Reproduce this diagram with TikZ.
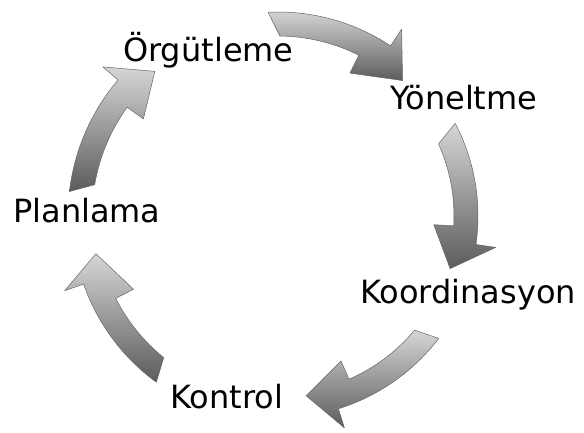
\documentclass[tikz,border=0pt]{standalone}
\usepackage{fontspec}
\setmainfont{DejaVu Sans}
\usepackage{tikz}

% curved cycle arrow round (cc): radius, tail out/in angle, barb out/in angle, tip angle
\newcommand{\cycarrow}[6]{%
  \pgfmathsetmacro\rOut{#1+12}\pgfmathsetmacro\rIn{#1-12}%
  \pgfmathsetmacro\rHi{#1+32}\pgfmathsetmacro\rLo{#1-32}\pgfmathsetmacro\rTip{#1-8}%
  \draw[carrow] ([shift={(#2:\rOut pt)}]cc) arc[start angle=#2, end angle=#4, radius=\rOut pt]
    -- ([shift={(#4:\rHi pt)}]cc) -- ([shift={(#6:\rTip pt)}]cc)
    -- ([shift={(#5:\rLo pt)}]cc) -- ([shift={(#5:\rIn pt)}]cc)
    arc[start angle=#5, end angle=#3, radius=\rIn pt] -- cycle;
}

\begin{document}
\begin{tikzpicture}[
  x=1pt, y=1pt,
  lab/.style={font=\fontsize{32}{36}\selectfont, inner sep=0pt, anchor=base west},
  carrow/.style={draw=black!60, line width=0.5pt, line join=round,
                 top color=black!16, bottom color=black!64}
]
\useasboundingbox (0,0) rectangle (584,432);
\coordinate (cc) at (278,216);

% ---- labels ----
\node[lab] (org) at (123,370) {Örgütleme};
\node[lab] (yon) at (390,322) {Yöneltme};
\node[lab] (koo) at (360,129) {Koordinasyon};
\node[lab] (kon) at (170,24)  {Kontrol};
\node[lab] (pla) at (13,210)  {Planlama};

% ---- cycle arrows ----
\cycarrow{192}{92.8}{89.4}{56.5}{63.3}{47.4}   % org -> yon
\cycarrow{188}{27.6}{24.2}{-8.2}{-3.2}{-17}    % yon -> koo
\cycarrow{190}{-37.3}{-39.9}{-72.6}{-66.5}{-81.1} % koo -> kon
\cycarrow{194}{233.8}{231.1}{199.3}{206.9}{191.7} % kon -> pla
\cycarrow{198}{173.3}{170.3}{139.6}{144.2}{130.4} % pla -> org
\end{tikzpicture}
\end{document}
